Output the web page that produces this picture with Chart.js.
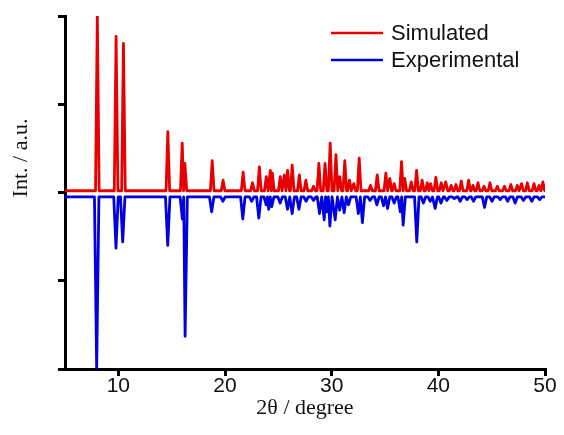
<!DOCTYPE html>
<html>
<head>
<meta charset="utf-8">
<script src="https://cdn.jsdelivr.net/npm/chart.js@4/dist/chart.umd.min.js"></script>
<style>
    html, body { margin: 0; padding: 0; background: #fff; }
</style>
</head>
<body>
<canvas id="xrdChart" width="564" height="435"></canvas>
<script>
// 2-theta range and axis ticks
const xMin = 5;
const xMax = 50;
const xTickVals = [10, 20, 30, 40, 50];

// Simulated pattern: peak positions (deg) and intensities
const simBase = 0.02;
const simPos = [8.03, 9.79, 10.48, 14.64, 15.99, 16.24, 18.8, 19.82, 21.7, 22.58,
    23.22, 23.87, 24.25, 24.44, 25.18, 25.56, 25.87, 26.3, 26.97, 27.58,
    28.3, 28.8, 29.38, 29.86, 30.4, 30.76, 31.23, 31.67, 32.07, 32.58,
    33.64, 34.27, 35.08, 35.45, 35.86, 36.55, 36.85, 37.46, 37.96, 38.48,
    38.96, 39.27, 39.77, 40.27, 40.7, 41.2, 41.65, 42.15, 42.84, 43.25,
    43.72, 44.28, 44.84, 45.53, 46.2, 46.8, 47.4, 47.8, 48.35, 48.97,
    49.44, 49.8];
const simInt = [2.0, 1.77, 1.69, 0.69, 0.56, 0.33, 0.36, 0.14, 0.23, 0.11,
    0.29, 0.18, 0.25, 0.22, 0.18, 0.2, 0.25, 0.31, 0.2, 0.14,
    0.07, 0.33, 0.33, 0.56, 0.43, 0.18, 0.36, 0.14, 0.1, 0.39,
    0.08, 0.2, 0.22, 0.16, 0.1, 0.35, 0.16, 0.12, 0.25, 0.14,
    0.11, 0.1, 0.17, 0.11, 0.12, 0.08, 0.09, 0.13, 0.14, 0.08,
    0.11, 0.07, 0.11, 0.07, 0.07, 0.09, 0.08, 0.1, 0.11, 0.1,
    0.08, 0.12];

// Experimental pattern (drawn downwards)
const expBase = -0.05;
const expPos = [7.97, 9.78, 10.41, 14.63, 16.0, 16.26, 18.75, 19.8, 21.67, 22.5,
    23.17, 23.86, 24.1, 24.38, 25.17, 25.86, 26.3, 26.93, 27.6, 28.3,
    28.86, 29.3, 29.55, 29.83, 30.33, 30.75, 31.17, 31.58, 32.5, 32.88,
    33.6, 34.24, 34.86, 35.24, 35.86, 36.43, 36.7, 37.98, 38.6, 39.24,
    39.7, 40.25, 40.8, 41.5, 42.05, 42.7, 43.3, 44.33, 45.03, 45.8,
    46.5, 47.2, 47.98, 48.76, 49.5];
const expInt = [-2.0, -0.63, -0.56, -0.6, -0.3, -1.63, -0.22, -0.1, -0.3, -0.1,
    -0.29, -0.14, -0.19, -0.16, -0.12, -0.19, -0.24, -0.19, -0.1, -0.09,
    -0.24, -0.31, -0.22, -0.38, -0.31, -0.2, -0.23, -0.14, -0.24, -0.34,
    -0.09, -0.14, -0.15, -0.18, -0.12, -0.22, -0.37, -0.56, -0.12, -0.1,
    -0.18, -0.12, -0.09, -0.07, -0.1, -0.08, -0.1, -0.17, -0.1, -0.08,
    -0.1, -0.12, -0.09, -0.1, -0.08];

const labels = ['Simulated', 'Experimental'];
const xTitle = '2θ / degree';
const yTitle = 'Int. / a.u.';

const serif = '"Times New Roman", "Liberation Serif", serif';
const sans = 'Arial, "Liberation Sans", sans-serif';

// peak list -> line points; neighbouring peaks that overlap share a valley point
function buildTrace(pos, height, base, hw) {
    const pts = [{ x: xMin, y: base }];
    pos.forEach((p, i) => {
        const prev = pos[i - 1], next = pos[i + 1];
        if (prev === undefined || p - prev > 2 * hw) pts.push({ x: p - hw, y: base });
        pts.push({ x: p, y: height[i] });
        if (next === undefined || next - p > 2 * hw) pts.push({ x: p + hw, y: base });
        else pts.push({ x: (p + next) / 2, y: base });
    });
    pts.push({ x: xMax, y: base });
    return pts;
}

const overlay = {
    id: 'overlay',
    afterDraw(chart) {
        const c = chart.ctx;
        c.save();
        // legend, top right
        chart.data.datasets.forEach((ds, i) => {
            const y = 33 + i * 27;
            c.strokeStyle = ds.borderColor;
            c.lineWidth = 2.5;
            c.beginPath();
            c.moveTo(331, y);
            c.lineTo(383, y);
            c.stroke();
            c.fillStyle = '#111';
            c.font = '22px ' + sans;
            c.textBaseline = 'middle';
            c.fillText(ds.label, 391, y + 1);
        });
        // y title
        c.translate(21, 158);
        c.rotate(-Math.PI / 2);
        c.font = '22px ' + serif;
        c.textAlign = 'center';
        c.textBaseline = 'middle';
        c.fillStyle = '#111';
        c.fillText(yTitle, 0, 0);
        c.restore();
    }
};

const axisLine = { color: '#000', width: 3 };
const tickMarks = { display: true, drawOnChartArea: false, color: '#000', lineWidth: 3, tickLength: 7 };

new Chart(document.getElementById('xrdChart').getContext('2d'), {
    type: 'line',
    data: {
        datasets: [
            {
                label: labels[0],
                data: buildTrace(simPos, simInt, simBase, 0.17),
                borderColor: 'rgb(232,0,0)',
                borderWidth: 2.8,
                borderJoinStyle: 'round',
                pointRadius: 0,
                tension: 0,
                fill: false
            },
            {
                label: labels[1],
                data: buildTrace(expPos, expInt, expBase, 0.21),
                borderColor: 'rgb(0,0,225)',
                borderWidth: 2.8,
                borderJoinStyle: 'round',
                pointRadius: 0,
                tension: 0,
                fill: false
            }
        ]
    },
    options: {
        responsive: false,
        animation: false,
        layout: { padding: { top: 16, right: 19, left: 0, bottom: 14 } },
        plugins: {
            legend: { display: false },
            tooltip: { enabled: false }
        },
        scales: {
            x: {
                type: 'linear',
                min: xMin,
                max: xMax,
                afterBuildTicks: s => { s.ticks = xTickVals.map(v => ({ value: v })); },
                afterFit: s => { s.height = 52; },
                border: axisLine,
                grid: tickMarks,
                ticks: { color: '#111', font: { family: sans, size: 21 }, padding: -2, maxRotation: 0 },
                title: { display: true, text: xTitle, color: '#111', font: { family: serif, size: 22 }, padding: 0 }
            },
            y: {
                min: -2,
                max: 2,
                afterFit: s => { s.width = 65; },
                border: axisLine,
                grid: tickMarks,
                ticks: { display: false, stepSize: 1 }
            }
        }
    },
    plugins: [overlay]
});
</script>
</body>
</html>
